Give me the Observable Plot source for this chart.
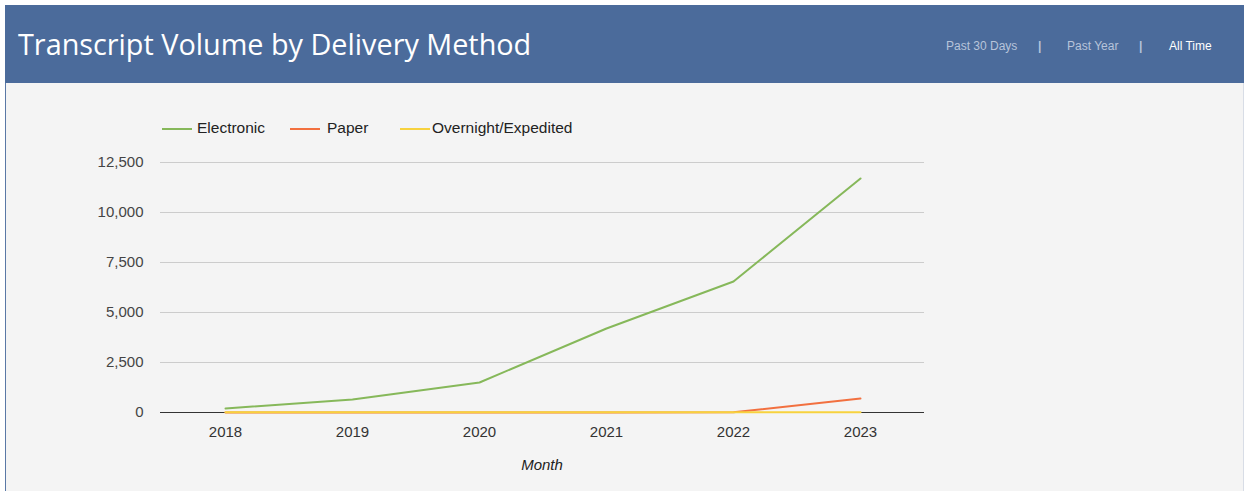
<!DOCTYPE html>
<html>
<head>
<meta charset="utf-8">
<script src="https://cdn.jsdelivr.net/npm/d3@7"></script>
<script src="https://cdn.jsdelivr.net/npm/@observablehq/plot@0.6"></script>
<style>
  html, body { margin: 0; padding: 0; background: #ffffff; }
  #page { position: relative; width: 1249px; height: 491px; overflow: hidden; background: #ffffff; }
  #header { position: absolute; left: 5px; top: 5px; width: 1239px; height: 78px; background: #4b6b9b; }
  #title { position: absolute; left: 13px; top: 19px; font-family: "Open Sans", sans-serif; font-size: 28.8px; color: #ffffff; white-space: nowrap; }
  .nav { position: absolute; top: 39px; font-family: Arial, "Liberation Sans", sans-serif; font-size: 12px; color: #b7c4da; white-space: nowrap; }
  .bar { font-weight: bold; }
  #panel { position: absolute; left: 5px; top: 83px; width: 1239px; height: 408px; background: #f4f4f4; border-left: 1px solid #5a78a6; border-right: 1px solid #d8dde6; box-sizing: border-box; }
  #legend { position: absolute; left: 162px; top: 119px; font-family: Arial, "Liberation Sans", sans-serif; font-size: 15.5px; color: #222; white-space: nowrap; }
  .item { position: absolute; top: 0; }
  .swatch { position: absolute; top: 9px; width: 30px; height: 2px; }
  #chart { position: absolute; left: 0; top: 140px; }
  #xlabel { position: absolute; left: 512px; top: 456px; width: 60px; text-align: center; font-family: Arial, "Liberation Sans", sans-serif; font-style: italic; font-size: 15px; color: #222; }
</style>
</head>
<body>
<div id="page">
  <div id="header">
    <div id="title">Transcript Volume by Delivery Method</div>
  </div>
  <div class="nav" style="left:946px;">Past 30 Days</div>
  <div class="nav bar" style="left:1038px;">|</div>
  <div class="nav" style="left:1067px;">Past Year</div>
  <div class="nav bar" style="left:1139px;">|</div>
  <div class="nav" style="left:1169px; color:#ffffff;">All Time</div>
  <div id="panel"></div>
  <div id="legend"></div>
  <div id="chart"></div>
  <div id="xlabel">Month</div>
</div>
<script>
const years = ["2018", "2019", "2020", "2021", "2022", "2023"];
const electronic = [200, 650, 1500, 4200, 6550, 11700];
const paper = [0, 0, 0, 0, 10, 700];
const overnight = [10, 10, 10, 10, 10, 10];
const seriesNames = ["Electronic", "Paper", "Overnight/Expedited"];
const seriesColors = ["#86b85a", "#f2703f", "#f7d23e"];
const yTicks = [0, 2500, 5000, 7500, 10000, 12500];

const seriesValues = [electronic, paper, overnight];
const rows = [];
seriesNames.forEach((name, s) => {
  years.forEach((yr, i) => rows.push({series: name, year: yr, value: seriesValues[s][i]}));
});

// legend
const legend = document.getElementById("legend");
const legendOffsets = [0, 128, 238];
const textOffsets = [35, 37, 32];
seriesNames.forEach((name, i) => {
  const it = document.createElement("div");
  it.className = "item";
  it.style.left = legendOffsets[i] + "px";
  it.innerHTML = `<span class="swatch" style="left:0;background:${seriesColors[i]}"></span><span style="position:absolute;left:${textOffsets[i]}px;top:0">${name}</span>`;
  legend.appendChild(it);
});

const chart = Plot.plot({
  width: 940,
  height: 350,
  marginLeft: 160,
  marginRight: 16,
  marginTop: 22,
  marginBottom: 78,
  style: {background: "transparent", fontFamily: "Arial, 'Liberation Sans', sans-serif", fontSize: "15px", color: "#333"},
  x: {type: "point", domain: years, padding: 0.5, label: null},
  y: {domain: [0, 12500], label: null},
  color: {domain: seriesNames, range: seriesColors},
  marks: [
    Plot.ruleY(yTicks.filter(d => d > 0), {stroke: "#cccccc", strokeWidth: 1}),
    Plot.ruleY([0], {stroke: "#333333", strokeWidth: 1}),
    Plot.axisY({ticks: yTicks, tickFormat: d3.format(","), tickSize: 0, tickPadding: 17, fill: "#444"}),
    Plot.axisX({tickSize: 0, tickPadding: 14, fill: "#333"}),
    Plot.line(rows, {x: "year", y: "value", z: "series", stroke: "series", strokeWidth: 2})
  ]
});
document.getElementById("chart").appendChild(chart);
</script>
</body>
</html>
